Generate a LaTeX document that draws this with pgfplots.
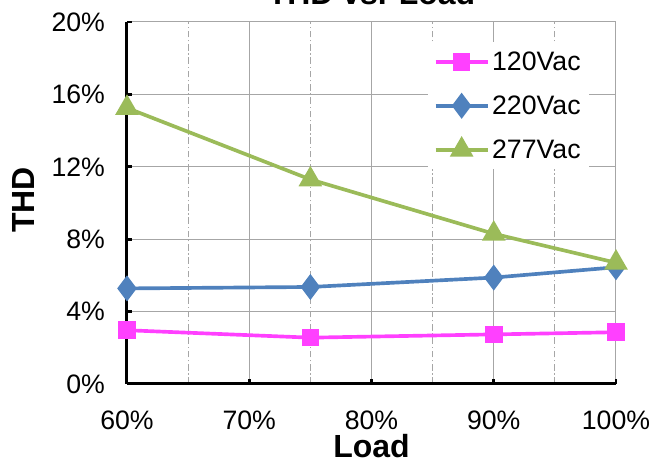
\documentclass[border=0pt]{standalone}
\usepackage{fontspec}
\setmainfont{Liberation Sans}
\usepackage{pgfplots}
\pgfplotsset{compat=1.18}

\definecolor{c120}{HTML}{FF40FF}
\definecolor{c220}{HTML}{4F81BD}
\definecolor{c277}{HTML}{9BBB59}
\definecolor{gridgray}{HTML}{A6A6A6}

\begin{document}
\begin{tikzpicture}
\begin{axis}[
    name=ax,
    scale only axis,
    width=366.75pt, height=271.5pt,
    xmin=60, xmax=100,
    ymin=0, ymax=20,
    xtick={60,70,80,90,100},
    xticklabels={60\%,70\%,80\%,90\%,100\%},
    ytick={0,4,8,12,16,20},
    yticklabels={0\%,4\%,8\%,12\%,16\%,20\%},
    minor x tick num=1,
    minor tick length=0pt,
    axis x line*=bottom,
    axis y line*=left,
    axis line style={line width=2.25pt, black, -},
    tick align=inside,
    major tick length=4pt,
    every tick/.style={black, line width=2pt},
    grid=major,
    xminorgrids=true,
    major grid style={gridgray, line width=0.75pt},
    minor grid style={gridgray, line width=0.6pt, dash pattern=on 5pt off 2pt on 1pt off 2pt},
    tick label style={font=\fontsize{20}{22}\selectfont},
    xticklabel style={yshift=-17pt},
    yticklabel style={xshift=-13pt},
    xlabel={\textbf{Load}},
    ylabel={\textbf{THD}},
    label style={font=\fontsize{24}{26}\selectfont},
    xlabel style={at={(rel axis cs:0.5,0)}, anchor=north, yshift=-34pt},
    ylabel style={at={([xshift=-66pt]rel axis cs:0,0.508)}, anchor=south},
    clip=false,
    legend cell align=left,
    legend style={at={(rel axis cs:0.616,0.945)}, anchor=north west,
        draw=none, fill=white, font=\fontsize{20}{22}\selectfont,
        row sep=13.5pt, inner xsep=4pt, inner ysep=5pt},
    legend image code/.code={
        \draw[mark repeat=2, mark phase=2, #1]
        plot coordinates {(0pt,0pt) (19.5pt,0pt) (39pt,0pt)};},
]
\addplot[c120, line width=2.75pt, mark=square*, mark size=5.25pt, mark options={solid}]
coordinates {(60,2.97) (75,2.56) (90,2.74) (100,2.86)};
\addplot[c220, line width=2.75pt, mark=diamond*, mark size=7.5pt, mark options={solid}]
coordinates {(60,5.28) (75,5.36) (90,5.88) (100,6.45)};
\addplot[c277, line width=2.75pt, mark=triangle*, mark size=7.5pt, mark options={solid}]
coordinates {(60,15.25) (75,11.3) (90,8.3) (100,6.7)};
\legend{120Vac,220Vac,277Vac}
\node[anchor=base, font=\fontsize{24}{26}\selectfont\bfseries]
    at (rel axis cs:0.5,1) [yshift=13pt] {THD vs. Load};
\end{axis}
\pgfresetboundingbox
\path[use as bounding box] (-95.25pt,-59.25pt) rectangle (393pt,288pt);
\end{tikzpicture}
\end{document}
